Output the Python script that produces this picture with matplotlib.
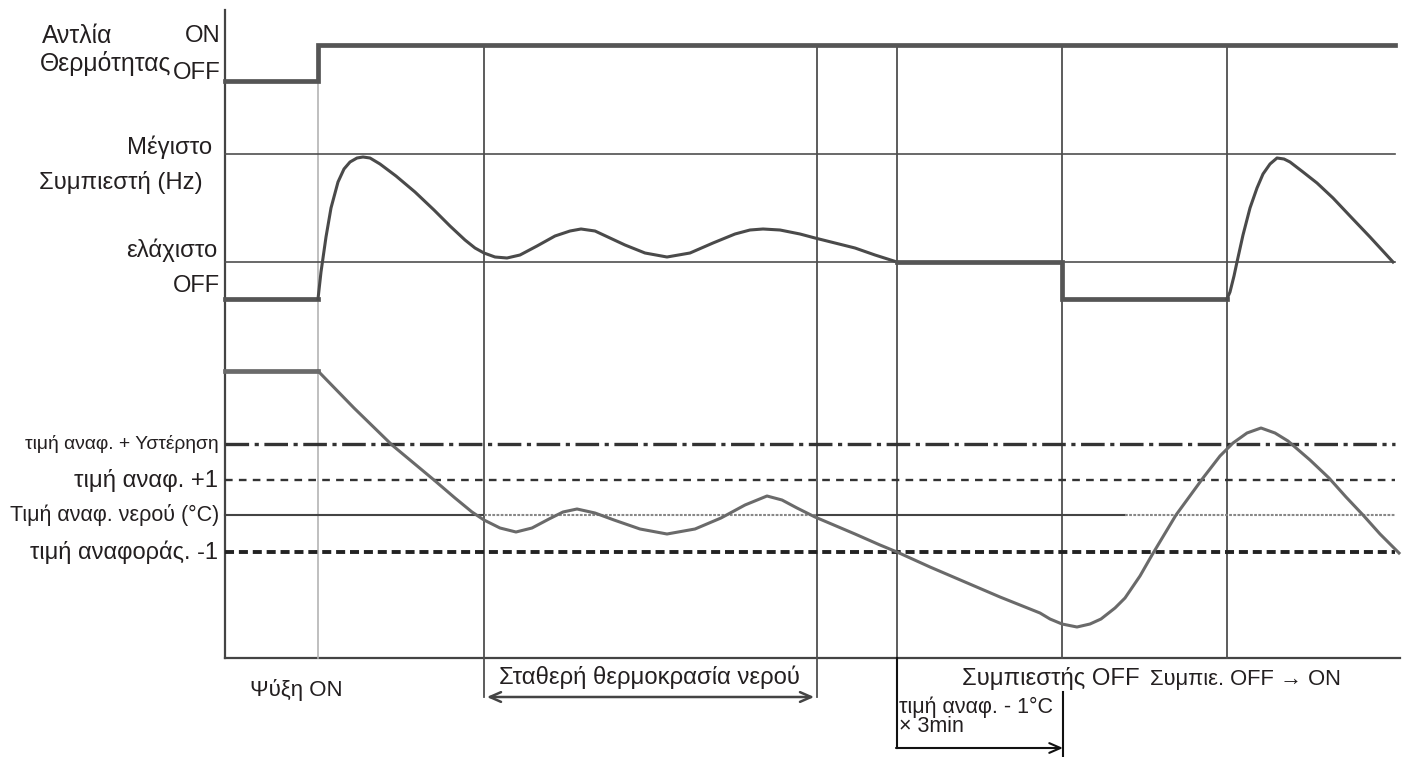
import matplotlib.pyplot as plt

plt.rcParams['font.family'] = ['Liberation Sans', 'DejaVu Sans']
plt.rcParams['lines.scale_dashes'] = False

# diagram units (x = time, y = level, top down)
x_start, x_end = 225, 1395
events = [318, 484, 817, 897, 1062, 1227]

# thermostat pump (OFF -> ON)
pump_x = [225, 318, 318, 1395]
pump_y = [81, 81, 45, 45]

# compressor levels
y_max, y_min, y_off = 154, 262, 299
comp1_x = [318, 319, 321, 323, 326, 331, 338, 344, 350, 357, 363, 370, 380, 396, 415, 434, 450,
           465, 475, 484, 495, 507, 520, 537, 555, 570, 581, 595, 610, 625, 645, 667, 690, 713,
           735, 750, 763, 780, 800, 815, 835, 855, 875, 897]
comp1_y = [299, 290, 272, 258, 237, 208, 182, 169, 162, 158, 157, 158, 164, 176, 192, 210, 226,
           240, 248, 253, 257, 258, 255, 246, 236, 231, 229, 231, 238, 245, 253, 257, 253, 243,
           234, 230, 229, 230, 234, 238, 243, 248, 255, 262]
comp_off_x = [225, 318, 318]
comp_off_y = [299, 299, 299]
comp_step_x = [897, 1062, 1062, 1227]
comp_step_y = [262, 262, 299, 299]
comp2_x = [1227, 1230, 1234, 1237, 1243, 1250, 1257, 1263, 1270, 1277, 1284, 1290, 1303, 1317,
           1333, 1350, 1370, 1393]
comp2_y = [299, 292, 276, 262, 235, 208, 188, 174, 164, 158, 159, 162, 172, 183, 198, 216, 237, 262]

# water temperature levels
y_hyst, y_plus1, y_set, y_minus1 = 444, 480, 515, 552
water_start_x = [225, 318]
water_start_y = [371, 371]
water_x = [318, 354, 392, 434, 455, 472, 484, 500, 516, 532, 549, 563, 577, 595, 614, 640, 667,
           695, 721, 745, 767, 782, 797, 815, 855, 880, 897, 930, 965, 1000, 1040, 1050, 1062,
           1077, 1090, 1101, 1115, 1125, 1140, 1152, 1176, 1203, 1220, 1233, 1247, 1261, 1275,
           1288, 1310, 1329, 1346, 1363, 1380, 1399]
water_y = [371, 408, 445, 480, 498, 512, 520, 528, 532, 528, 519, 512, 509, 513, 520, 529, 534,
           529, 518, 505, 496, 500, 508, 517, 534, 545, 552, 567, 582, 597, 613, 619, 624,
           627, 624, 619, 608, 598, 576, 555, 515, 478, 456, 443, 433, 428, 433,
           441, 460, 478, 497, 515, 534, 553]

line_c = '#4f4f4f'
text_c = '#231f20'

fig = plt.figure(figsize=(14.05, 7.57), dpi=100)
ax = fig.add_axes([0, 0, 1, 1])
ax.set_xlim(0, 1405)
ax.set_ylim(757, 0)
ax.axis('off')

# axes of the diagram
ax.plot([225, 225], [10, 658], color='#444444', lw=1.6)
ax.plot([225, 1400], [658, 658], color='#444444', lw=1.6)

# event lines
ax.plot([events[0], events[0]], [83, 658], color='#b4b4b4', lw=1.2)
ax.plot([events[1], events[1]], [45, 697], color=line_c, lw=1.3)
ax.plot([events[2], events[2]], [45, 697], color=line_c, lw=1.3)
ax.plot([events[3], events[3]], [45, 658], color=line_c, lw=1.3)
ax.plot([events[4], events[4]], [45, 658], color=line_c, lw=1.3)
ax.plot([events[5], events[5]], [45, 658], color=line_c, lw=1.3)

# pump
ax.plot(pump_x, pump_y, color='#555555', lw=3.4, solid_joinstyle='miter')

# compressor
ax.plot([x_start, x_end], [y_max, y_max], color=line_c, lw=1.2)
ax.plot([x_start, x_end], [y_min, y_min], color=line_c, lw=1.2)
ax.plot(comp_off_x, comp_off_y, color='#555555', lw=3.4)
ax.plot(comp1_x, comp1_y, color='#4a4a4a', lw=2.2, solid_joinstyle='round')
ax.plot(comp_step_x, comp_step_y, color='#555555', lw=3.4, solid_joinstyle='miter')
ax.plot(comp2_x, comp2_y, color='#4a4a4a', lw=2.2, solid_joinstyle='round')

# water temperature reference lines
ax.plot([x_start, x_end], [y_hyst, y_hyst], color='#333333', lw=2.4, dashes=(17, 4, 3, 4))
ax.plot([x_start, x_end], [y_plus1, y_plus1], color='#333333', lw=1.7, dashes=(5.5, 4.5))
ax.plot([x_start, 484], [y_set, y_set], color='#444444', lw=1.5)
ax.plot([484, 817], [y_set, y_set], color='#888888', lw=1.5, dashes=(2, 1))
ax.plot([817, 1125], [y_set, y_set], color='#444444', lw=1.5)
ax.plot([1125, x_end], [y_set, y_set], color='#888888', lw=1.5, dashes=(2, 1))
ax.plot([x_start, x_end], [y_minus1, y_minus1], color='#222222', lw=2.8, dashes=(6.5, 3.5))

# water curve
ax.plot(water_start_x, water_start_y, color='#6a6a6a', lw=3.4)
ax.plot(water_x, water_y, color='#6a6a6a', lw=2.2, solid_joinstyle='round')

# left labels
ax.text(42, 36, 'Αντλία', fontsize=17.8, color=text_c, va='center')
ax.text(221, 36, 'ON', fontsize=17.2, color=text_c, va='center', ha='right')
ax.text(40, 64, 'Θερμότητας', fontsize=17.8, color=text_c, va='center')
ax.text(221, 73, 'OFF', fontsize=17.2, color=text_c, va='center', ha='right')
ax.text(212, 147, 'Μέγιστο', fontsize=17.2, color=text_c, va='center', ha='right')
ax.text(203, 183, 'Συμπιεστή (Hz)', fontsize=17.2, color=text_c, va='center', ha='right')
ax.text(217, 250, 'ελάχιστο', fontsize=17.2, color=text_c, va='center', ha='right')
ax.text(220, 286, 'OFF', fontsize=17, color=text_c, va='center', ha='right')

ax.text(219, y_hyst, 'τιμή αναφ. + Υστέρηση', fontsize=13.9, color=text_c, va='center', ha='right')
ax.text(218, y_plus1, 'τιμή αναφ. +1', fontsize=17.2, color=text_c, va='center', ha='right')
ax.text(219, y_set, 'Τιμή αναφ. νερού (°C)', fontsize=15.5, color=text_c, va='center', ha='right')
ax.text(218, y_minus1, 'τιμή αναφοράς. -1', fontsize=17, color=text_c, va='center', ha='right')

# bottom labels
ax.text(296, 690, 'Ψύξη ON', fontsize=16, color=text_c, va='center', ha='center')
ax.text(649, 677, 'Σταθερή θερμοκρασία νερού', fontsize=17.2, color=text_c, va='center', ha='center')
ax.annotate('', xy=(484, 697), xytext=(817, 697),
            arrowprops=dict(arrowstyle='<->,head_length=0.8,head_width=0.35', color='#444444', lw=1.8))
ax.text(1140, 679, 'Συμπιεστής OFF', fontsize=17.2, color=text_c, va='center', ha='right')
ax.text(1150, 679, 'Συμπιε. OFF → ON', fontsize=15.8, color=text_c, va='center', ha='left')

ax.text(899, 707, 'τιμή αναφ. - 1°C', fontsize=15.5, color=text_c, va='center', ha='left')
ax.text(899, 726, '× 3min', fontsize=15.5, color=text_c, va='center', ha='left')
ax.plot([897, 897], [658, 748], color='#111111', lw=1.5)
ax.plot([1063, 1063], [692, 757], color='#111111', lw=1.5)
ax.annotate('', xy=(1063, 748), xytext=(896, 748),
            arrowprops=dict(arrowstyle='->,head_length=0.8,head_width=0.35', color='#111111', lw=1.5,
                            shrinkA=0, shrinkB=0))

fig.savefig('out.png', dpi=100)
